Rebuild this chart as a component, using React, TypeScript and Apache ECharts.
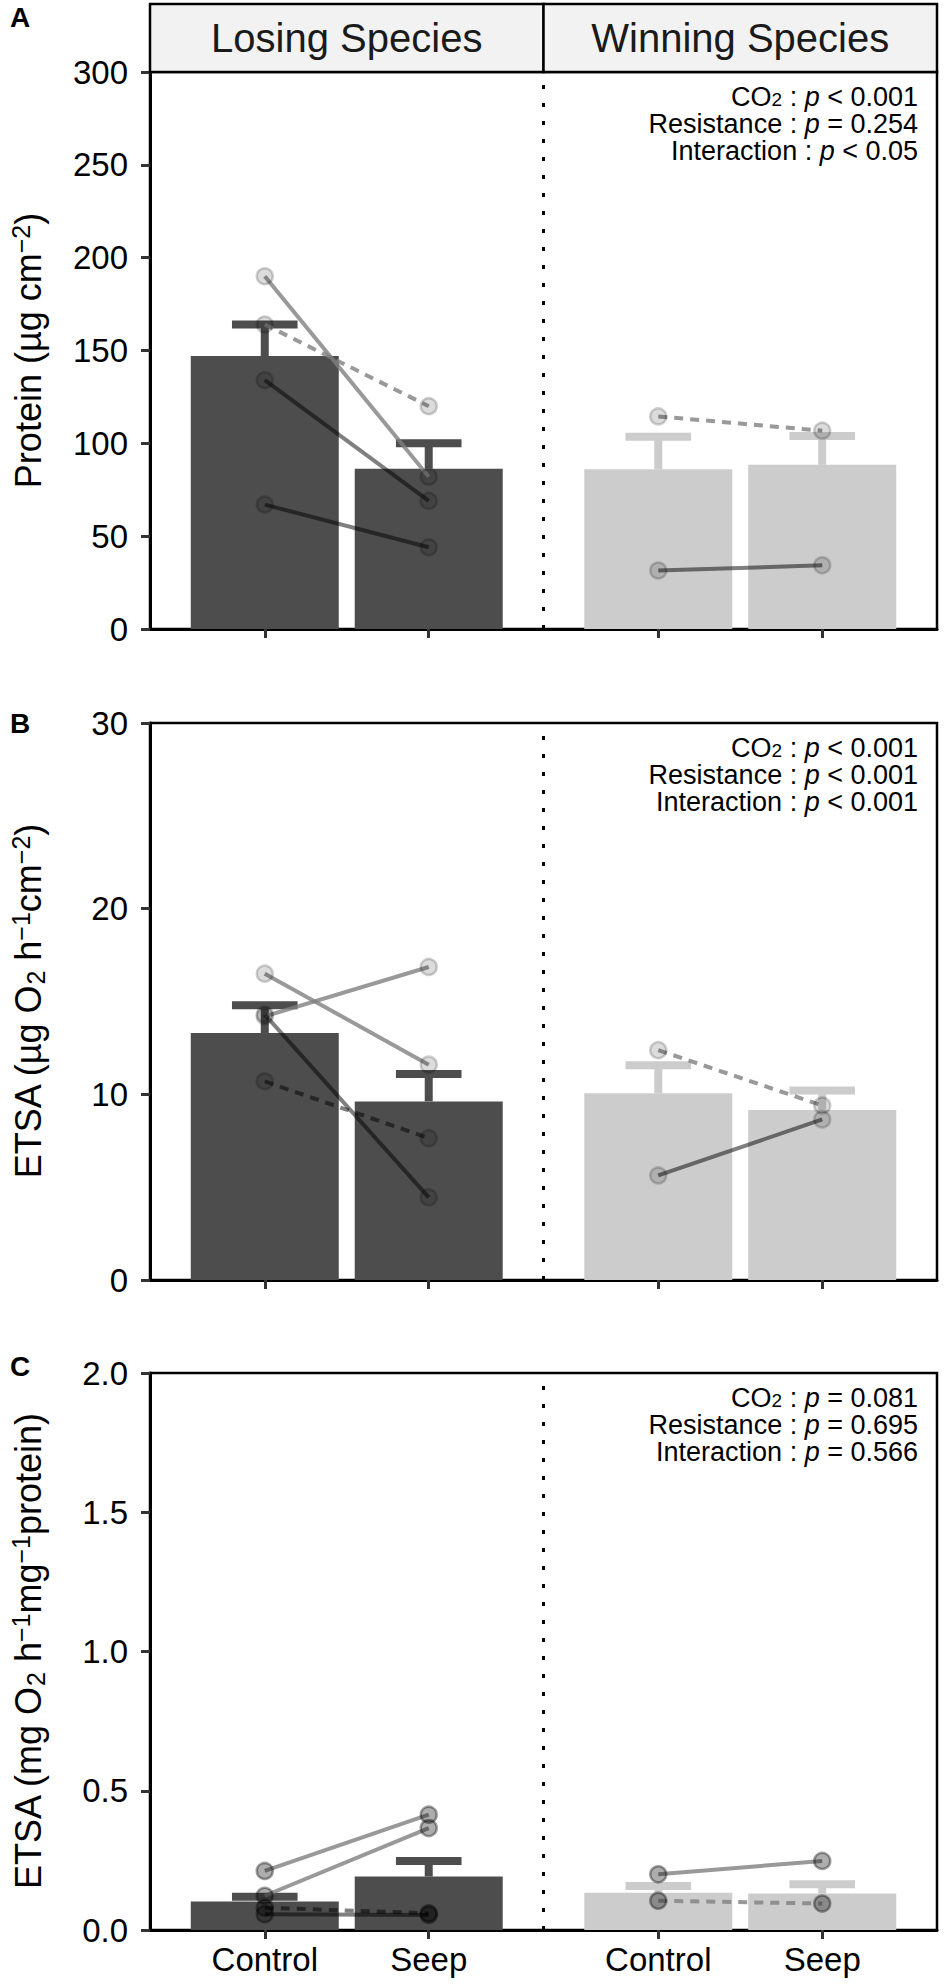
import React, { useEffect, useRef } from 'react';
import * as echarts from 'echarts';

const FONT = '"Liberation Sans", Arial, Helvetica, sans-serif';

// ---------- data ----------
const groupNames = ['Losing Species', 'Winning Species'];
const treatmentNames = ['Control', 'Seep'];
const xCenters = [1, 2, 3.4, 4.4]; // Losing Control, Losing Seep, Winning Control, Winning Seep
const facetBreak = 2.7;
const xMin = 0.3;
const xMax = 5.1;
const barColors = ['#4d4d4d', '#4d4d4d', '#cccccc', '#cccccc'];

// Panel A : Protein
const proteinMean = [147, 86.3, 86.1, 88.4];
const proteinUpper = [164, 100, 103.5, 104];
const proteinLosingControl = [190, 164, 134, 67];
const proteinLosingSeep = [82, 120, 69, 44];
const proteinLosingStyle = ['light', 'lightDash', 'dark', 'dark'];
const proteinWinningControl = [114.5, 31.5];
const proteinWinningSeep = [106.8, 34.3];
const proteinWinningStyle = ['lightDash', 'dark'];
const proteinAxis = { max: 300, interval: 50, decimals: 0 };
const proteinP = ['< 0.001', '= 0.254', '< 0.05'];

// Panel B : ETSA per area
const etsaAreaMean = [13.3, 9.62, 10.06, 9.15];
const etsaAreaUpper = [14.8, 11.1, 11.56, 10.2];
const etsaAreaLosingControl = [16.5, 14.2, 14.3, 10.7];
const etsaAreaLosingSeep = [11.6, 16.86, 4.45, 7.64];
const etsaAreaLosingStyle = ['light', 'light', 'dark', 'darkDash'];
const etsaAreaWinningControl = [12.38, 5.63];
const etsaAreaWinningSeep = [9.4, 8.65];
const etsaAreaWinningStyle = ['lightDash', 'dark'];
const etsaAreaAxis = { max: 30, interval: 10, decimals: 0 };
const etsaAreaP = ['< 0.001', '< 0.001', '< 0.001'];

// Panel C : ETSA per protein
const etsaProtMean = [0.102, 0.192, 0.134, 0.131];
const etsaProtUpper = [0.119, 0.248, 0.158, 0.164];
const etsaProtLosingControl = [0.212, 0.123, 0.08, 0.057];
const etsaProtLosingSeep = [0.414, 0.366, 0.06, 0.054];
const etsaProtLosingStyle = ['light', 'light', 'darkDash', 'dark'];
const etsaProtWinningControl = [0.2, 0.105];
const etsaProtWinningSeep = [0.248, 0.095];
const etsaProtWinningStyle = ['light', 'lightDash'];
const etsaProtAxis = { max: 2, interval: 0.5, decimals: 1 };
const etsaProtP = ['= 0.081', '= 0.695', '= 0.566'];

const panelLetters = ['A', 'B', 'C'];
const yTitles = [
  '{n|Protein (µg cm}{p|−2}{n|)}',
  '{n|ETSA (µg O}{s|2}{n| h}{p|−1}{n|cm}{p|−2}{n|)}',
  '{n|ETSA (mg O}{s|2}{n| h}{p|−1}{n|mg}{p|−1}{n|protein)}',
];

// ---------- layout ----------
const GRID_LEFT = 150;
const GRID_WIDTH = 787;
const GRID_TOPS = [72, 723, 1373];
const GRID_HEIGHT = 557;
const LETTER_Y = [17, 723, 1366];

const panels = [
  {
    mean: proteinMean, upper: proteinUpper,
    lc: proteinLosingControl, ls: proteinLosingSeep, lst: proteinLosingStyle,
    wc: proteinWinningControl, ws: proteinWinningSeep, wst: proteinWinningStyle,
    axis: proteinAxis, p: proteinP, pointAlpha: 0.17,
  },
  {
    mean: etsaAreaMean, upper: etsaAreaUpper,
    lc: etsaAreaLosingControl, ls: etsaAreaLosingSeep, lst: etsaAreaLosingStyle,
    wc: etsaAreaWinningControl, ws: etsaAreaWinningSeep, wst: etsaAreaWinningStyle,
    axis: etsaAreaAxis, p: etsaAreaP, pointAlpha: 0.17,
  },
  {
    mean: etsaProtMean, upper: etsaProtUpper,
    lc: etsaProtLosingControl, ls: etsaProtLosingSeep, lst: etsaProtLosingStyle,
    wc: etsaProtWinningControl, ws: etsaProtWinningSeep, wst: etsaProtWinningStyle,
    axis: etsaProtAxis, p: etsaProtP, pointAlpha: 0.4,
  },
];

const lineStyles: Record<string, any> = {
  light: { color: 'rgba(128,128,128,0.8)', type: 'solid' },
  lightDash: { color: 'rgba(128,128,128,0.8)', type: [9, 7] },
  dark: { color: 'rgba(0,0,0,0.5)', type: 'solid' },
  darkDash: { color: 'rgba(0,0,0,0.5)', type: [9, 7] },
};

function buildOption() {
  const grid: any[] = [];
  const xAxis: any[] = [];
  const yAxis: any[] = [];
  const series: any[] = [];
  const graphic: any[] = [];

  panels.forEach((pn, i) => {
    grid.push({
      left: GRID_LEFT, top: GRID_TOPS[i], width: GRID_WIDTH, height: GRID_HEIGHT,
      show: true, borderColor: '#000', borderWidth: 2.5, backgroundColor: 'rgba(0,0,0,0)',
      containLabel: false, outerBoundsMode: 'none',
    });
    xAxis.push({
      type: 'value', gridIndex: i, min: xMin, max: xMax,
      axisLine: { show: true, onZero: false, lineStyle: { color: '#000', width: 3 } },
      axisTick: { show: true, customValues: xCenters, length: 9, lineStyle: { color: '#333', width: 3 } },
      axisLabel: {
        show: i === 2, customValues: xCenters, fontSize: 33, color: '#000', fontFamily: FONT, margin: 13,
        formatter: (v: number) => {
          const idx = xCenters.findIndex((c) => Math.abs(c - v) < 1e-6);
          return idx >= 0 ? treatmentNames[idx % 2] : '';
        },
      },
      splitLine: { show: false },
    });
    yAxis.push({
      type: 'value', gridIndex: i, min: 0, max: pn.axis.max, interval: pn.axis.interval,
      axisLine: { show: true, lineStyle: { color: '#000', width: 3 } },
      axisTick: { show: true, length: 9, lineStyle: { color: '#333', width: 3 } },
      axisLabel: {
        fontSize: 33, color: '#000', fontFamily: FONT, margin: 22,
        formatter: (v: number) => v.toFixed(pn.axis.decimals),
      },
      splitLine: { show: false },
    });

    // bars
    series.push({
      type: 'bar', xAxisIndex: i, yAxisIndex: i, barWidth: 148, z: 1,
      data: xCenters.map((x, k) => ({ value: [x, pn.mean[k]], itemStyle: { color: barColors[k] } })),
      markLine: {
        silent: true, symbol: ['none', 'none'], label: { show: false },
        lineStyle: { color: '#000', width: 3, type: [4, 14] },
        data: [{ xAxis: facetBreak }],
      },
    });
    // error bars (mean to mean + SE)
    series.push({
      type: 'custom', xAxisIndex: i, yAxisIndex: i, z: 2,
      data: xCenters.map((x, k) => [x, pn.mean[k], pn.upper[k]]),
      renderItem: (params: any, api: any) => {
        const x = api.value(0);
        const m = api.value(1);
        const u = api.value(2);
        const base = api.coord([x, m]);
        const top = api.coord([x, u]);
        const l = api.coord([x - 0.2, u]);
        const r = api.coord([x + 0.2, u]);
        const color = barColors[params.dataIndex];
        return {
          type: 'group',
          children: [
            { type: 'line', shape: { x1: base[0], y1: base[1], x2: top[0], y2: top[1] }, style: { stroke: color, lineWidth: 8 } },
            { type: 'line', shape: { x1: l[0], y1: l[1], x2: r[0], y2: r[1] }, style: { stroke: color, lineWidth: 8 } },
          ],
        };
      },
    });
    // connecting lines
    const addLines = (ctrl: number[], seep: number[], styles: string[], xc: number, xs: number) => {
      ctrl.forEach((c, k) => {
        const st = lineStyles[styles[k]];
        series.push({
          type: 'line', xAxisIndex: i, yAxisIndex: i, z: 3, symbol: 'none', silent: true,
          data: [[xc, c], [xs, seep[k]]],
          lineStyle: { color: st.color, type: st.type, width: 4 },
        });
      });
    };
    addLines(pn.lc, pn.ls, pn.lst, xCenters[0], xCenters[1]);
    addLines(pn.wc, pn.ws, pn.wst, xCenters[2], xCenters[3]);
    // points
    const pts: number[][] = [];
    pn.lc.forEach((v) => pts.push([xCenters[0], v]));
    pn.ls.forEach((v) => pts.push([xCenters[1], v]));
    pn.wc.forEach((v) => pts.push([xCenters[2], v]));
    pn.ws.forEach((v) => pts.push([xCenters[3], v]));
    series.push({
      type: 'scatter', xAxisIndex: i, yAxisIndex: i, z: 4, symbolSize: 16, silent: true,
      data: pts,
      itemStyle: {
        color: `rgba(0,0,0,${pn.pointAlpha})`,
        borderColor: `rgba(0,0,0,${pn.pointAlpha + 0.06})`,
        borderWidth: 2.5,
      },
    });

    // panel letter
    graphic.push({
      type: 'text', x: 10, y: LETTER_Y[i],
      style: { text: panelLetters[i], font: `bold 28px ${FONT}`, fill: '#000', align: 'left', verticalAlign: 'middle' },
    });
    // y title
    graphic.push({
      type: 'text', x: 28, y: GRID_TOPS[i] + GRID_HEIGHT / 2, rotation: Math.PI / 2,
      style: {
        text: yTitles[i], align: 'center', verticalAlign: 'middle', fill: '#000',
        rich: {
          n: { fontSize: 36, fontFamily: FONT, color: '#000', lineHeight: 40 },
          p: { fontSize: 25, fontFamily: FONT, color: '#000', lineHeight: 12, verticalAlign: 'top' },
          s: { fontSize: 25, fontFamily: FONT, color: '#000', lineHeight: 12, verticalAlign: 'bottom' },
        },
      },
    });
    // annotations (one text element per line)
    const annLines = [
      `{n|CO}{s|2}{n| : }{i|p}{n| ${pn.p[0]}}`,
      `{n|Resistance : }{i|p}{n| ${pn.p[1]}}`,
      `{n|Interaction : }{i|p}{n| ${pn.p[2]}}`,
    ];
    annLines.forEach((t, k) => {
      graphic.push({
        type: 'text', x: 918, y: GRID_TOPS[i] + 25 + 27 * k,
        style: {
          text: t, align: 'right', verticalAlign: 'middle', fill: '#000',
          rich: {
            n: { fontSize: 27, fontFamily: FONT, color: '#000', lineHeight: 24 },
            i: { fontSize: 27, fontFamily: FONT, color: '#000', lineHeight: 24, fontStyle: 'italic' },
            s: { fontSize: 19, fontFamily: FONT, color: '#000', lineHeight: 2, verticalAlign: 'bottom' },
          },
        },
      });
    });
  });

  // strips
  const breakPx = GRID_LEFT + ((facetBreak - xMin) / (xMax - xMin)) * GRID_WIDTH;
  const stripBounds = [
    [GRID_LEFT, breakPx],
    [breakPx, GRID_LEFT + GRID_WIDTH],
  ];
  stripBounds.forEach(([a, b], k) => {
    graphic.push({
      type: 'rect', shape: { x: a, y: 4, width: b - a, height: GRID_TOPS[0] - 4 },
      style: { fill: '#f2f2f2', stroke: '#000', lineWidth: 2.5 }, z: 10,
    });
    graphic.push({
      type: 'text', x: (a + b) / 2, y: (4 + GRID_TOPS[0]) / 2, z: 11,
      style: { text: groupNames[k], font: `40px ${FONT}`, fill: '#1a1a1a', align: 'center', verticalAlign: 'middle' },
    });
  });

  return { animation: false, backgroundColor: '#fff', grid, xAxis, yAxis, series, graphic };
}

export default function App() {
  const ref = useRef<HTMLDivElement>(null);
  useEffect(() => {
    document.body.style.margin = '0';
    if (!ref.current) return;
    const chart = echarts.init(ref.current, null, { renderer: 'svg' });
    chart.setOption(buildOption() as any);
    return () => chart.dispose();
  }, []);
  return <div ref={ref} style={{ width: 950, height: 1987 }} />;
}
